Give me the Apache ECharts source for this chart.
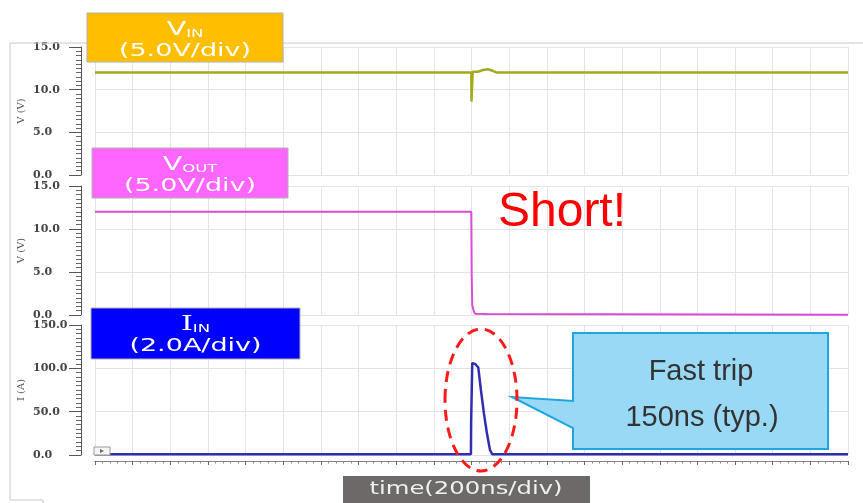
<!DOCTYPE html>
<html>
<head>
<meta charset="utf-8">
<script src="https://cdn.jsdelivr.net/npm/echarts@6/dist/echarts.min.js"></script>
<style>
  html, body { margin: 0; padding: 0; background: #fff; }
  #main { width: 863px; height: 503px; }
</style>
</head>
<body>
<div id="main"></div>
<script>
// time axis in ns, 200ns/div, 20 div
var timeMax = 4000;
var timeStep = 200;

// VIN trace (V)
var vinT = [0, 1999, 2000, 2002, 2006, 2010, 2034, 2061, 2088, 2107, 2134, 4000];
var vinV = [12, 12, 8.6, 8.8, 12.1, 12.3, 12.1, 12.3, 12.4, 12.25, 12.0, 12.0];

// VOUT trace (V)
var voutT = [0, 1999, 2001, 2004, 2010, 2018, 2080, 2085, 4000];
var voutV = [12, 12, 4.6, 1.2, 0.6, 0.15, 0.12, 0.02, 0.02];

// IIN trace (A)
var iinT = [0, 1997, 1998, 2003, 2004, 2012, 2020, 2036, 2050, 2066, 2082, 2098, 2110, 4000];
var iinA = [0.8, 0.8, 36, 36, 106, 106, 105, 101, 75, 48, 25, 6, 0.8, 0.8];

// y axis ranges [min, max, interval]
var vTicks = [0, 15, 5];
var iTicks = [0, 150, 50];

function pairs(t, v) {
  var out = [];
  for (var i = 0; i < t.length; i++) out.push([t[i], v[i]]);
  return out;
}

var dom = document.getElementById("main");
var myChart = echarts.init(dom);

var gridLine = { show: true, lineStyle: { color: "#e4e4e4", width: 1 } };

function xAx(idx, showTicks) {
  return {
    type: "value", gridIndex: idx, min: 0, max: timeMax, interval: timeStep,
    axisLabel: { show: false },
    axisLine: { show: showTicks, onZero: false, lineStyle: { color: "#888" } },
    offset: showTicks ? 6 : 0,
    axisTick: { show: showTicks, length: 4, lineStyle: { color: "#666" } },
    minorTick: { show: showTicks, splitNumber: 5, length: 2.5, lineStyle: { color: "#888" } },
    splitLine: gridLine
  };
}

function yAx(idx, r, name) {
  return {
    type: "value", gridIndex: idx, min: r[0], max: r[1], interval: r[2],
    position: "left",
    name: name, nameLocation: "middle", nameGap: 55, nameMoveOverlap: false,
    nameTextStyle: { fontFamily: "DejaVu Serif", fontSize: 10, color: "#555" },
    offset: 14,
    axisLine: { show: true, onZero: false, lineStyle: { color: "#555", width: 1 } },
    axisTick: { show: true, length: 12, lineStyle: { color: "#555" } },
    minorTick: { show: true, splitNumber: 10, length: 5, lineStyle: { color: "#666" } },
    axisLabel: {
      margin: 48, align: "left",
      fontFamily: "DejaVu Serif", fontWeight: "bold", fontSize: 11, color: "#444",
      formatter: function (v) { return v.toFixed(1); }
    },
    splitLine: gridLine
  };
}

function boxTitle(x, y, w, h, color, main, sub, scale, serif) {
  var cx = x + w / 2;
  return [
    { type: "rect", shape: { x: x, y: y, width: w, height: h },
      style: { fill: color, stroke: "#b0b0b0", lineWidth: 1 }, z: 10 },
    { type: "text", x: cx, y: y + 17, scaleX: scale, z: 11,
      style: {
        text: "{a|" + main[0] + "}{b|" + main[1] + "}",
        align: "center", verticalAlign: "middle",
        rich: {
          a: { font: (serif ? "20px DejaVu Serif" : "19px DejaVu Sans"), fill: "#fff", verticalAlign: "bottom" },
          b: { font: "11px DejaVu Sans", fill: "#fff", verticalAlign: "bottom" }
        }
      } },
    { type: "text", x: cx, y: y + 38, scaleX: scale, z: 11,
      style: { text: sub, font: "18px DejaVu Sans", fill: "#fff", align: "center", verticalAlign: "middle" } }
  ];
}

var graphics = [
  { type: "polyline", shape: { points: [[863, 43], [10, 43], [10, 500], [43, 500], [43, 503]] },
    style: { stroke: "#c8c8c8", lineWidth: 1, fill: null }, z: 1 },
  { type: "rect", shape: { x: 94, y: 447, width: 16, height: 8 },
    style: { fill: "#f4f4f4", stroke: "#999", lineWidth: 1 }, z: 5 },
  { type: "polygon", shape: { points: [[100, 449], [104, 451], [100, 453]] },
    style: { fill: "#666" }, z: 6 },
  { type: "text", x: 562, y: 237, z: 12,
    style: { text: "Short!", font: "48px Liberation Sans", fill: "#ff0000", align: "center", verticalAlign: "bottom" } },
  { type: "polygon", z: 12,
    shape: { points: [[573, 333], [828, 333], [828, 449], [573, 449], [573, 428], [512, 397], [573, 401]] },
    style: { fill: "#99d9f5", stroke: "#1ea6e2", lineWidth: 2 } },
  { type: "ellipse", z: 13, shape: { cx: 481, cy: 400, rx: 36, ry: 71 },
    style: { fill: null, stroke: "#ff1a1a", lineWidth: 3, lineDash: [11, 7] } },
  { type: "text", x: 701, y: 372, z: 14,
    style: { text: "Fast trip", font: "29px Liberation Sans", fill: "#333", align: "center", verticalAlign: "middle" } },
  { type: "text", x: 702, y: 418, z: 14,
    style: { text: "150ns (typ.)", font: "29px Liberation Sans", fill: "#333", align: "center", verticalAlign: "middle" } },
  { type: "rect", shape: { x: 343, y: 476, width: 247, height: 30 },
    style: { fill: "#6d6969" }, z: 10 },
  { type: "text", x: 466, y: 490, scaleX: 1.43, z: 11,
    style: { text: "time(200ns/div)", font: "17px DejaVu Sans", fill: "#f0f0f0", align: "center", verticalAlign: "middle" } }
];
graphics = graphics
  .concat(boxTitle(87, 13, 196, 49, "#ffbf00", ["V", "IN"], "(5.0V/div)", 1.5, false))
  .concat(boxTitle(92, 148, 196, 50, "#ff66ff", ["V", "OUT"], "(5.0V/div)", 1.5, false))
  .concat(boxTitle(91, 308, 209, 51, "#0000ff", ["I", "IN"], "(2.0A/div)", 1.5, true));

var option = {
  animation: false,
  backgroundColor: "#fff",
  grid: [
    { left: 95, right: 15, top: 47, height: 128 },
    { left: 95, right: 15, top: 186, height: 129 },
    { left: 95, right: 15, top: 325, height: 130 }
  ],
  xAxis: [xAx(0, false), xAx(1, false), xAx(2, true)],
  yAxis: [yAx(0, vTicks, "V (V)"), yAx(1, vTicks, "V (V)"), yAx(2, iTicks, "I (A)")],
  series: [
    { type: "line", xAxisIndex: 0, yAxisIndex: 0, data: pairs(vinT, vinV), showSymbol: false,
      lineStyle: { color: "#a3aa1c", width: 2.5 }, z: 3 },
    { type: "line", xAxisIndex: 1, yAxisIndex: 1, data: pairs(voutT, voutV), showSymbol: false,
      lineStyle: { color: "#d94bd9", width: 2 }, z: 3 },
    { type: "line", xAxisIndex: 2, yAxisIndex: 2, data: pairs(iinT, iinA), showSymbol: false,
      lineStyle: { color: "#2e2eb0", width: 2.5 }, z: 3 }
  ],
  graphic: graphics
};

myChart.setOption(option);
</script>
</body>
</html>
